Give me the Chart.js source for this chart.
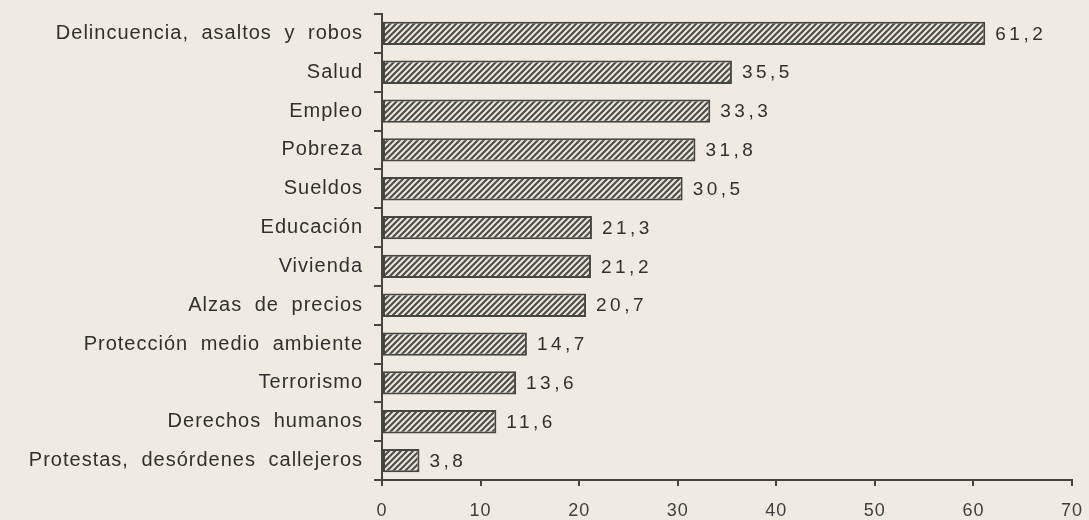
<!DOCTYPE html>
<html>
<head>
<meta charset="utf-8">
<script src="https://cdn.jsdelivr.net/npm/chart.js@4"></script>
<style>
  html, body { margin: 0; padding: 0; background: #efebe3; }
  #wrap { width: 1089px; height: 520px; }
</style>
</head>
<body>
<div id="wrap"><canvas id="chart" width="1089" height="520"></canvas></div>
<script>
var categories = [
  "Delincuencia, asaltos y robos",
  "Salud",
  "Empleo",
  "Pobreza",
  "Sueldos",
  "Educación",
  "Vivienda",
  "Alzas de precios",
  "Protección medio ambiente",
  "Terrorismo",
  "Derechos humanos",
  "Protestas, desórdenes callejeros"
];
var values = [61.2, 35.5, 33.3, 31.8, 30.5, 21.3, 21.2, 20.7, 14.7, 13.6, 11.6, 3.8];
var xTicks = [0, 10, 20, 30, 40, 50, 60, 70];

var inkColor = '#30302e';
var lineColor = '#454542';
var fontFamily = '"Liberation Sans", Arial, sans-serif';

/**
 * Builds the diagonal hatch used to fill the bars
 */
function makeHatch() {
  var c = document.createElement('canvas');
  c.width = 6;
  c.height = 6;
  var g = c.getContext('2d');
  g.fillStyle = '#ebe7df';
  g.fillRect(0, 0, 6, 6);
  g.strokeStyle = '#4e4e4a';
  g.lineWidth = 2.2;
  g.beginPath();
  g.moveTo(-1, 7); g.lineTo(7, -1);
  g.moveTo(-4, 4); g.lineTo(4, -4);
  g.moveTo(2, 10); g.lineTo(10, 2);
  g.stroke();
  return g.createPattern(c, 'repeat');
}

// slightly spaced lettering like the printed original
var spacingPlugin = {
  id: 'spacing',
  beforeDraw: function(chart) {
    chart.ctx.letterSpacing = '1px';
    chart.ctx.wordSpacing = '6px';
  }
};

// value printed right after each bar, with decimal comma
var valueLabels = {
  id: 'valueLabels',
  afterDatasetsDraw: function(chart) {
    var ctx = chart.ctx;
    var meta = chart.getDatasetMeta(0);
    ctx.save();
    ctx.font = '19px ' + fontFamily;
    ctx.letterSpacing = '3.5px';
    ctx.fillStyle = inkColor;
    ctx.textAlign = 'left';
    ctx.textBaseline = 'middle';
    meta.data.forEach(function(bar, i) {
      var txt = values[i].toFixed(1).replace('.', ',');
      ctx.fillText(txt, bar.x + 10, bar.y + 1);
    });
    ctx.restore();
  }
};

var ctx = document.getElementById('chart').getContext('2d');
var chart = new Chart(ctx, {
  type: 'bar',
  data: {
    labels: categories,
    datasets: [{
      data: values,
      backgroundColor: makeHatch(),
      borderColor: lineColor,
      borderWidth: 2,
      borderSkipped: false,
      barPercentage: 0.6,
      categoryPercentage: 1
    }]
  },
  options: {
    indexAxis: 'y',
    responsive: false,
    animation: false,
    layout: { padding: { left: 0, right: 17, top: 14, bottom: 0 } },
    plugins: {
      legend: { display: false },
      tooltip: { enabled: false }
    },
    scales: {
      x: {
        min: 0,
        max: 70,
        afterFit: function(scale) {
          scale.height = 40;
          scale.paddingLeft = 0;
          scale.paddingRight = 0;
        },
        afterBuildTicks: function(scale) {
          scale.ticks = xTicks.map(function(v) { return { value: v }; });
        },
        grid: { drawOnChartArea: false, tickLength: 6, color: lineColor, lineWidth: 2 },
        border: { color: lineColor, width: 2 },
        ticks: {
          padding: 14,
          color: '#3e3e3c',
          font: { family: fontFamily, size: 18 }
        }
      },
      y: {
        afterFit: function(scale) {
          scale.width = 382;
          scale.paddingTop = 0;
          scale.paddingBottom = 0;
        },
        grid: { drawOnChartArea: false, offset: true, tickLength: 8, color: lineColor, lineWidth: 2 },
        border: { color: lineColor, width: 2 },
        ticks: {
          padding: 11,
          color: inkColor,
          font: { family: fontFamily, size: 20 }
        }
      }
    }
  },
  plugins: [spacingPlugin, valueLabels]
});
</script>
</body>
</html>
